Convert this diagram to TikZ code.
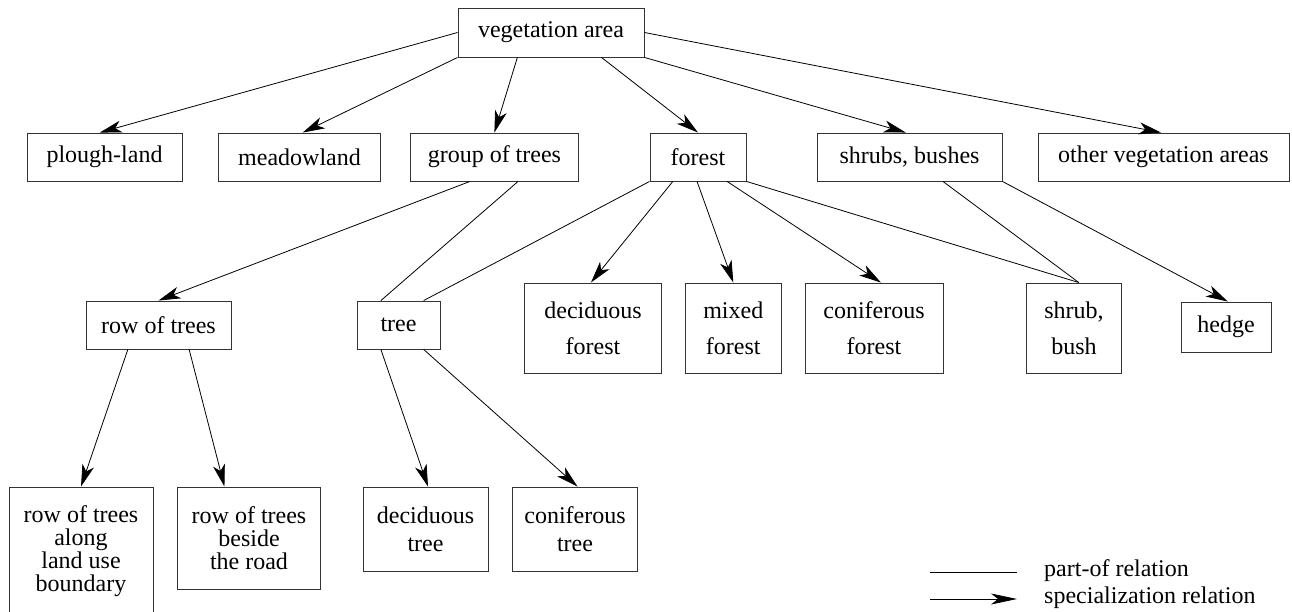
\documentclass[tikz,border=0pt]{standalone}
\usepackage{fontspec}
\setmainfont{Liberation Serif}
\usetikzlibrary{arrows.meta,calc}
\begin{document}
\begin{tikzpicture}[x=1pt,y=-1pt,
  box/.style={draw=black!80,line width=0.9pt,inner sep=0pt,align=center,
    font=\fontsize{24}{23}\selectfont},
  spec/.style={line width=0.8pt,-{Stealth[length=22pt,width=12pt,inset=6pt,fill=black]}},
  part/.style={line width=0.8pt},
  lab/.style={anchor=west,inner sep=0pt,font=\fontsize{24}{23}\selectfont}]
\useasboundingbox (0,0) rectangle (1292,612);
% row 0
\node[box,minimum width=186pt,minimum height=49pt] (veg) at (551,32.5) {vegetation area};
% row 1
\node[box,minimum width=155pt,minimum height=48pt] (plough) at (104.5,157) {plough-land};
\node[box,minimum width=162pt,minimum height=48pt] (meadow) at (299.5,157) {meadowland};
\node[box,minimum width=168pt,minimum height=48pt] (group) at (494.4,157) {group of trees};
\node[box,minimum width=96pt,minimum height=48pt] (forest) at (698,157) {forest};
\node[box,minimum width=185pt,minimum height=48pt] (shrubs) at (909.5,157) {shrubs, bushes};
\node[box,minimum width=251pt,minimum height=48pt] (other) at (1163.5,157) {other vegetation areas};
% row 2
\node[box,minimum width=145pt,minimum height=48pt] (row) at (158.5,325) {row of trees};
\node[box,minimum width=83pt,minimum height=48pt] (tree) at (398.5,325) {tree};
\node[box,minimum width=137pt,minimum height=90pt,font=\fontsize{24}{36}\selectfont] (decf) at (593,328) {deciduous\\forest};
\node[box,minimum width=95.4pt,minimum height=90pt,font=\fontsize{24}{36}\selectfont] (mixf) at (733.3,328) {mixed\\forest};
\node[box,minimum width=138pt,minimum height=90pt,font=\fontsize{24}{36}\selectfont] (conf) at (874,328) {coniferous\\forest};
\node[box,minimum width=95.4pt,minimum height=90pt,font=\fontsize{24}{36}\selectfont] (shrub) at (1074,328) {shrub,\\bush};
\node[box,minimum width=90pt,minimum height=50pt] (hedge) at (1226,327) {hedge};
% row 3
\node[box,minimum width=144pt,minimum height=129pt] (along) at (81,551.5) {row of trees\\along\\land use\\boundary};
\node[box,minimum width=143.5pt,minimum height=102pt] (beside) at (249,538) {row of trees\\beside\\the road};
\node[box,minimum width=125pt,minimum height=84pt,font=\fontsize{24}{28}\selectfont] (dect) at (425.5,529) {deciduous\\tree};
\node[box,minimum width=125pt,minimum height=84pt,font=\fontsize{24}{28}\selectfont] (cont) at (575,529) {coniferous\\tree};
% specialization from vegetation area
\draw[spec] (veg.west) -- ($(plough.north west)!0.47!(plough.north east)$);
\draw[spec] (veg.south west) -- ($(meadow.north west)!0.52!(meadow.north east)$);
\draw[spec] ($(veg.south west)!0.32!(veg.south east)$) -- (group.north);
\draw[spec] ($(veg.south west)!0.77!(veg.south east)$) -- (forest.north);
\draw[spec] (veg.south east) -- ($(shrubs.north west)!0.48!(shrubs.north east)$);
\draw[spec] (veg.east) -- ($(other.north west)!0.49!(other.north east)$);
% group of trees
\draw[spec] ($(group.south west)!0.355!(group.south east)$) -- (row.north);
\draw[part] ($(group.south west)!0.64!(group.south east)$) -- ($(tree.north west)!0.29!(tree.north east)$);
% forest
\draw[part] (forest.south west) -- ($(tree.north west)!0.80!(tree.north east)$);
\draw[spec] ($(forest.south west)!0.24!(forest.south east)$) -- ($(decf.north west)!0.485!(decf.north east)$);
\draw[spec] ($(forest.south west)!0.49!(forest.south east)$) -- (mixf.north);
\draw[spec] ($(forest.south west)!0.80!(forest.south east)$) -- ($(conf.north west)!0.55!(conf.north east)$);
\draw[part] (forest.south east) -- ($(shrub.north west)!0.55!(shrub.north east)$);
% shrubs, bushes
\draw[part] ($(shrubs.south west)!0.68!(shrubs.south east)$) -- ($(shrub.north west)!0.55!(shrub.north east)$);
\draw[spec] (shrubs.south east) -- ($(hedge.north west)!0.52!(hedge.north east)$);
% row of trees
\draw[spec] ($(row.south west)!0.29!(row.south east)$) -- (along.north);
\draw[spec] ($(row.south west)!0.71!(row.south east)$) -- ($(beside.north west)!0.33!(beside.north east)$);
% tree
\draw[spec] ($(tree.south west)!0.29!(tree.south east)$) -- ($(dect.north west)!0.52!(dect.north east)$);
\draw[spec] ($(tree.south west)!0.80!(tree.south east)$) -- ($(cont.north west)!0.52!(cont.north east)$);
% legend
\coordinate (p1) at (930,572);
\coordinate (p2) at (1017,572);
\coordinate (s1) at (930,599);
\coordinate (s2) at (1017,599);
\draw[part] (p1) -- (p2);
\draw[line width=0.8pt,-{Stealth[length=26pt,width=11pt,inset=7pt,fill=black]}] (s1) -- (s2);
\node[lab] (lp) at (1044,571) {part-of relation};
\node[lab] (ls) at (1044,598) {specialization relation};
\end{tikzpicture}
\end{document}
